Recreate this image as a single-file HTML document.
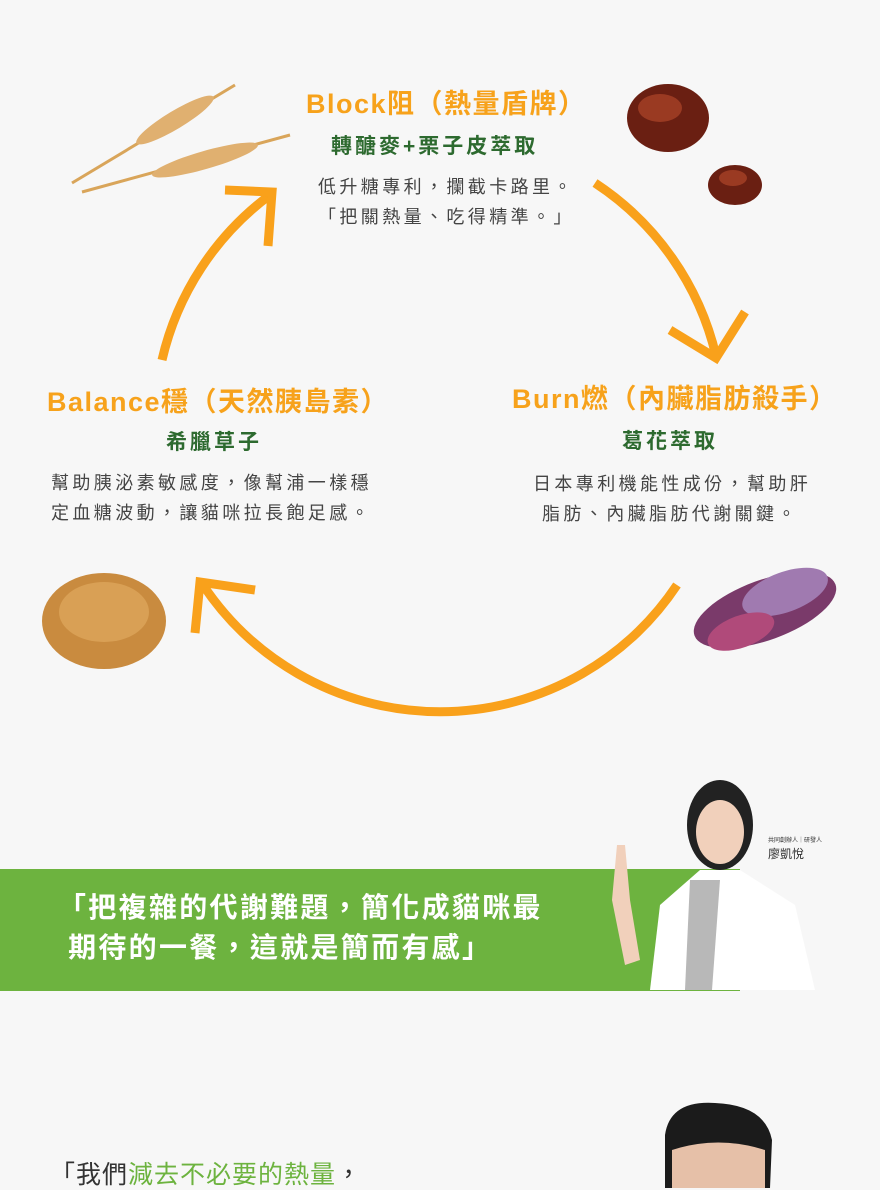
<!DOCTYPE html>
<html><head><meta charset="utf-8"><style>
*{margin:0;padding:0}
body{width:880px;height:1188px;background:#f7f7f7;position:relative;overflow:hidden;font-family:"Liberation Sans","Noto Sans CJK TC",sans-serif}
.t{position:absolute;white-space:nowrap}
.h{color:#f7a21b;font-size:27px;font-weight:bold;line-height:30px;letter-spacing:1.5px}
.s{color:#2d6a2f;font-size:21px;font-weight:bold;line-height:24px;letter-spacing:3px}
.b{color:#444;font-size:18px;line-height:30px;letter-spacing:3.4px}
</style></head><body>
<svg width="880" height="1188" style="position:absolute;left:0;top:0">
<g fill="none" stroke="#f9a11b" stroke-width="9" stroke-linecap="butt">
<path d="M162 360 A285 285 0 0 1 270 195"/>
<path d="M225 190 L272 192 L268 246"/>
<path d="M595 183 A285 285 0 0 1 716 356"/>
<path d="M745 312 L716 358 L670 330"/>
<path d="M677 585 A285 285 0 0 1 203 585"/>
<path d="M255 590 L200 582 L195 633"/>
</g>
<g stroke="#d9a55a" stroke-width="3" fill="none"><path d="M72 183 L235 85"/><path d="M82 192 L290 135"/></g>
<g fill="#e0b070"><ellipse cx="175" cy="120" rx="45" ry="9" transform="rotate(-31 175 120)"/><ellipse cx="205" cy="160" rx="55" ry="9" transform="rotate(-16 205 160)"/></g>
<ellipse cx="668" cy="118" rx="41" ry="34" fill="#6a1f12"/><ellipse cx="660" cy="108" rx="22" ry="14" fill="#9a3a22"/>
<ellipse cx="735" cy="185" rx="27" ry="20" fill="#6a1f12"/><ellipse cx="733" cy="178" rx="14" ry="8" fill="#9a3a22"/>
<ellipse cx="104" cy="621" rx="62" ry="48" fill="#c98b3f"/><ellipse cx="104" cy="612" rx="45" ry="30" fill="#d9a055"/>
<g transform="rotate(-20 765 610)"><ellipse cx="765" cy="610" rx="75" ry="30" fill="#7a3a6a"/><ellipse cx="790" cy="600" rx="45" ry="20" fill="#a07ab0"/><ellipse cx="735" cy="622" rx="35" ry="16" fill="#b04a7a"/></g>
<rect x="0" y="869" width="740" height="122" fill="#6db33f"/>
<path d="M650 990 L660 905 L700 870 L740 870 L795 905 L815 990 Z" fill="#fff"/>
<path d="M690 880 L720 880 L712 990 L685 990 Z" fill="#b8b8b8"/>
<ellipse cx="720" cy="825" rx="33" ry="45" fill="#222"/>
<ellipse cx="720" cy="832" rx="24" ry="32" fill="#f1d0bb"/>
<path d="M617 845 L625 845 L630 900 L640 960 L625 965 L612 900 Z" fill="#f1d0bb"/>
<path d="M665 1188 L665 1135 Q670 1100 715 1103 Q765 1105 772 1140 L770 1188 Z" fill="#1b1b1b"/>
<path d="M672 1150 Q718 1135 765 1150 L765 1188 L672 1188 Z" fill="#e6c0a8"/>
</svg>
<div class="t h" style="left:306px;top:89px">Block阻（熱量盾牌）</div>
<div class="t s" style="left:331px;top:135px">轉醣麥+栗子皮萃取</div>
<div class="t b" style="left:318px;top:172px">低升糖專利，攔截卡路里。</div>
<div class="t b" style="left:318px;top:202px">「把關熱量、吃得精準。」</div>
<div class="t h" style="left:47px;top:387px">Balance穩（天然胰島素）</div>
<div class="t s" style="left:166px;top:431px">希臘草子</div>
<div class="t b" style="left:51px;top:468px">幫助胰泌素敏感度，像幫浦一樣穩</div>
<div class="t b" style="left:51px;top:498px">定血糖波動，讓貓咪拉長飽足感。</div>
<div class="t h" style="left:512px;top:384px">Burn燃（內臟脂肪殺手）</div>
<div class="t s" style="left:622px;top:430px">葛花萃取</div>
<div class="t b" style="left:533px;top:469px">日本專利機能性成份，幫助肝</div>
<div class="t b" style="left:542px;top:499px">脂肪、內臟脂肪代謝關鍵。</div>
<div class="t" style="left:768px;top:835px;font-size:6px;color:#333">共同創辦人｜研發人</div>
<div class="t" style="left:768px;top:845px;font-size:12px;color:#333">廖凱悅</div>
<div class="t" style="left:58px;top:888px;color:#fff;font-size:28px;font-weight:bold;line-height:40px;letter-spacing:2.3px">「把複雜的代謝難題，簡化成貓咪最<br>&nbsp;期待的一餐，這就是簡而有感」</div>
<div class="t" style="left:50px;top:1160px;font-size:25px;color:#333;line-height:30px;letter-spacing:1px">「我們<span style="color:#6db33f">減去不必要的熱量</span>，</div>
</body></html>
